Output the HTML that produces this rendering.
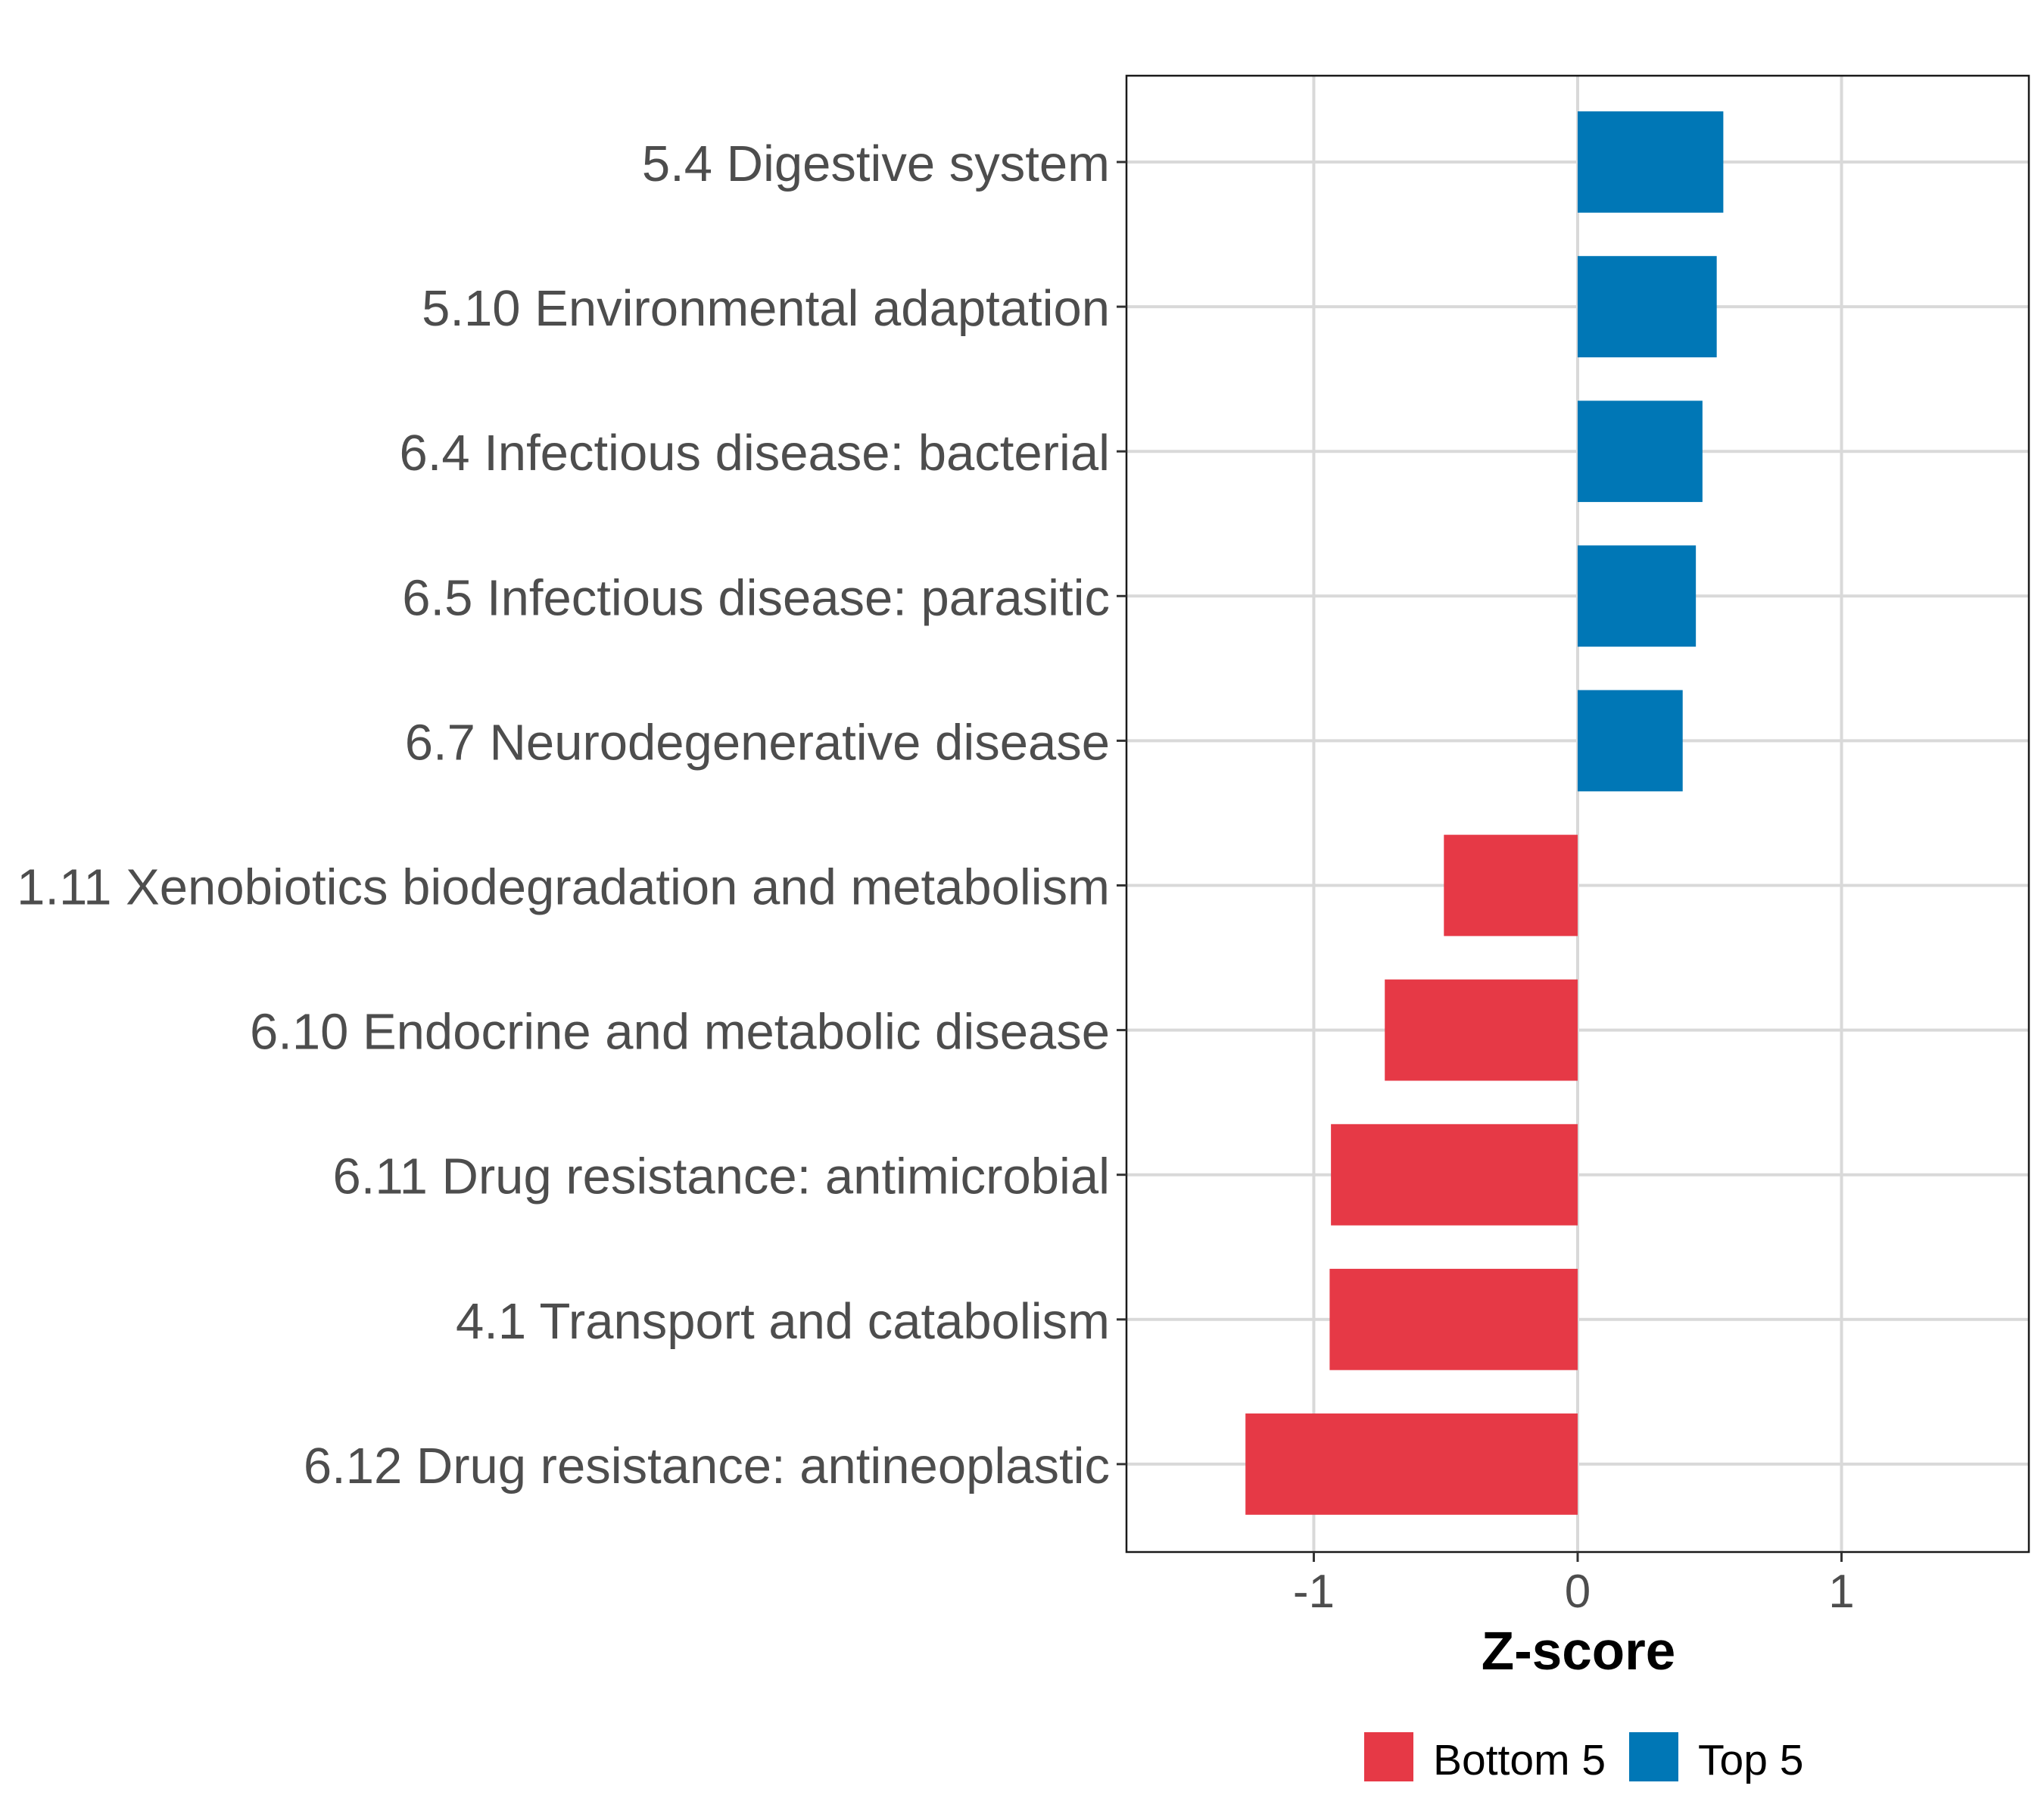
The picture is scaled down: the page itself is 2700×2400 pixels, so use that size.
<!DOCTYPE html>
<html><head><meta charset="utf-8"><style>
html,body{margin:0;padding:0;background:#fff}
svg{display:block;font-family:"Liberation Sans",Arial,sans-serif}
</style></head><body>
<svg id="chart" width="2700" height="2400" viewBox="0 0 2700 2400" xmlns="http://www.w3.org/2000/svg">
<rect width="2700" height="2400" fill="#fff"/>
<g id="grid"></g>
<g id="bars"></g>
<rect x="1488" y="100" width="1192" height="1950" fill="none" stroke="#1a1a1a" stroke-width="2.5"/>
<g id="yaxis"></g>
<g id="xaxis"></g>
<text x="2085" y="2205" text-anchor="middle" font-size="71" font-weight="bold" fill="#000">Z-score</text>
<g>
<rect x="1802" y="2288" width="65" height="65" fill="#E63946"/>
<text x="1893" y="2344" font-size="57" fill="#000">Bottom 5</text>
<rect x="2152" y="2288" width="65" height="65" fill="#0077B6"/>
<text x="2243" y="2344" font-size="57" fill="#000">Top 5</text>
</g>
</svg>
<script>
const categories = ["5.4 Digestive system","5.10 Environmental adaptation","6.4 Infectious disease: bacterial","6.5 Infectious disease: parasitic","6.7 Neurodegenerative disease","1.11 Xenobiotics biodegradation and metabolism","6.10 Endocrine and metabolic disease","6.11 Drug resistance: antimicrobial","4.1 Transport and catabolism","6.12 Drug resistance: antineoplastic"];
const zscores = [0.552, 0.527, 0.473, 0.448, 0.398, -0.507, -0.731, -0.935, -0.94, -1.259];
const groups = ["Top 5","Top 5","Top 5","Top 5","Top 5","Bottom 5","Bottom 5","Bottom 5","Bottom 5","Bottom 5"];
const xTicks = [-1, 0, 1];
const xTickLabels = ["-1","0","1"];

const NS = "http://www.w3.org/2000/svg";
const PL = 1488, PR = 2680, PT = 100, PB = 2050;
const XMIN = -1.71, XMAX = 1.71;
const x = v => PL + (v - XMIN) / (XMAX - XMIN) * (PR - PL);
const step = 191.1, y0 = 214;
const y = i => y0 + i * step;
const bh = step * 0.7;
const colors = {"Top 5":"#0077B6","Bottom 5":"#E63946"};
function mk(tag, attrs, parent){const e=document.createElementNS(NS,tag);for(const k in attrs)e.setAttribute(k,attrs[k]);parent.appendChild(e);return e;}
const grid=document.getElementById('grid'), bars=document.getElementById('bars'), ya=document.getElementById('yaxis'), xa=document.getElementById('xaxis');
xTicks.forEach((t,i)=>{
  const g=mk('line',{x1:x(t),x2:x(t),y1:PT,y2:PB,stroke:'#d9d9d9','stroke-width':4},grid);
  
  
  const tk=mk('line',{x1:x(t),x2:x(t),y1:PB,y2:PB+13,stroke:'#333','stroke-width':3},xa);
  
  
  const tl=mk('text',{x:x(t),y:PB+73,'text-anchor':'middle','font-size':62,fill:'#4d4d4d'},xa);
  tl.textContent=xTickLabels[i];
  
  
});
categories.forEach((c,i)=>{
  const g=mk('line',{x1:PL,x2:PR,y1:y(i),y2:y(i),stroke:'#d9d9d9','stroke-width':4},grid);
  
  
  const v=zscores[i];
  const r=mk('rect',{x:Math.min(x(0),x(v)),y:y(i)-bh/2,width:Math.abs(x(v)-x(0)),height:bh,fill:colors[groups[i]]},bars);
  
  
  const tk=mk('line',{x1:PL-13,x2:PL,y1:y(i),y2:y(i),stroke:'#333','stroke-width':3},ya);
  
  
  const tl=mk('text',{x:PL-22,y:y(i)+25,'text-anchor':'end','font-size':67,fill:'#4d4d4d'},ya);
  tl.textContent=c;
  
  
});
</script>
</body></html>
